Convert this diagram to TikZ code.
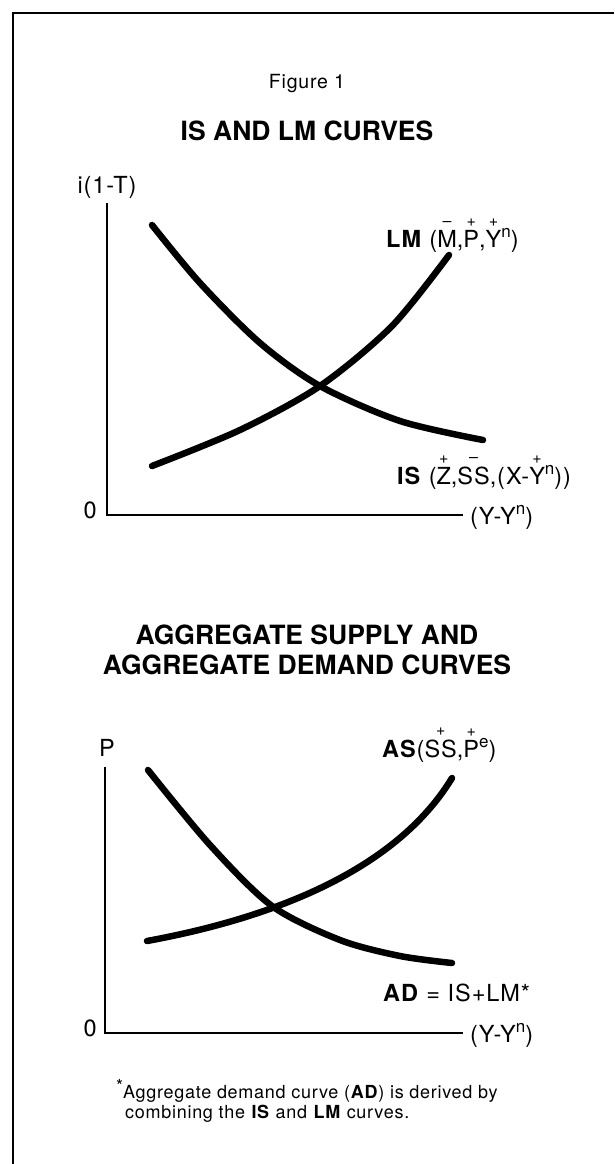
\documentclass[tikz,border=0pt]{standalone}
\usepackage{fontspec}
\setmainfont{TeX Gyre Heros}
\newfontfamily\lblfont[LetterSpace=4]{TeX Gyre Heros}
\newcommand\ovs[2]{\leavevmode\vbox{\offinterlineskip\halign{\hfil##\hfil\cr{\fontsize{16}{16}\selectfont #1}\cr\noalign{\kern3.5pt}#2\cr}}}
\newcommand\supn[1]{\raisebox{0.42em}{\fontsize{17}{17}\selectfont #1}}
\begin{document}
\begin{tikzpicture}[x=1pt,y=-1pt,
  curve/.style={line width=6.5pt,line cap=round,line join=round},
  axis/.style={line width=1.8pt},
  frame/.style={line width=2.4pt},
  lbl/.style={inner sep=0pt,font=\lblfont\fontsize{23.5}{27}\selectfont},
  ttl/.style={inner sep=0pt,font=\fontsize{26.5}{30}\bfseries\selectfont,align=center},
  fn/.style={inner sep=0pt,anchor=base west,font=\lblfont\fontsize{18}{20}\selectfont}]
\useasboundingbox (0,0) rectangle (614,1164);
% frame
\draw[frame] (13,1164) -- (13,13) -- (614,13);
% titles
\node[inner sep=0pt,font=\lblfont\fontsize{19.5}{22}\selectfont] (fig) at (307,84) {Figure 1};
\node[ttl] (t1) at (307,131) {IS AND LM CURVES};
% top chart
\coordinate (o1) at (107,515);
\coordinate (yt1) at (107,203);
\coordinate (xe1) at (463,515);
\draw[axis] (yt1) -- (o1) -- (xe1);
\node[lbl,anchor=south] (ya1) at (107,199) {i(1-T)};
\node[lbl,anchor=east] (z1) at (97,510) {0};
\node[lbl,anchor=west] (xa1) at (470,517) {(Y-Y\supn{n})};
\draw[curve] plot[smooth] coordinates {(152,225) (200,283) (260,343) (320,386) (400,421) (483,440)};
\draw[curve] plot[smooth] coordinates {(152,466) (240,430) (320,386) (392,326) (449,255)};
\node[lbl,anchor=base west] (lm) at (386,247) {\textbf{LM} (\ovs{–}{M},\ovs{+}{P},\ovs{+}{Y}\supn{n})};
\node[lbl,anchor=base west] (is) at (397,484) {\textbf{IS} (\ovs{+}{Z},\ovs{–}{SS},(X-\ovs{+}{Y}\supn{n}))};
% second titles
\node[ttl] (t2) at (307,650) {AGGREGATE SUPPLY AND\\AGGREGATE DEMAND CURVES};
% bottom chart
\coordinate (o2) at (105,1033);
\coordinate (yt2) at (105,767);
\coordinate (xe2) at (463,1033);
\draw[axis] (yt2) -- (o2) -- (xe2);
\node[lbl,anchor=south] (ya2) at (107,757) {P};
\node[lbl,anchor=east] (z2) at (97,1028) {0};
\node[lbl,anchor=west] (xa2) at (470,1035) {(Y-Y\supn{n})};
\draw[curve] plot[smooth] coordinates {(148,770) (210,845) (272,906) (340,940) (400,956) (452,963)};
\draw[curve] (147,941) .. controls (250,922) and (390,880) .. (452,778);
\node[lbl,anchor=base west] (as) at (382,757) {\textbf{AS}(\ovs{+}{SS},\ovs{+}{P}\supn{e})};
\node[lbl,anchor=base west] (ad) at (383,1001) {\textbf{AD} = IS+LM*};
% footnote
\node[fn] (f1) at (116,1098) {\raisebox{0.3em}{*}Aggregate demand curve (\textbf{AD}) is derived by};
\node[fn] (f2) at (125,1118) {combining the \textbf{IS} and \textbf{LM} curves.};
\end{tikzpicture}
\end{document}
